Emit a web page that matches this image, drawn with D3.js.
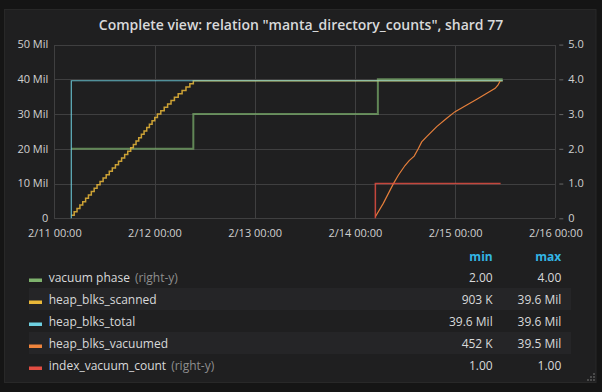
<!DOCTYPE html>
<html><head><meta charset="utf-8">
<script src="https://cdn.jsdelivr.net/npm/d3@7"></script>
<style>
html,body{margin:0;padding:0;background:#151515;}
svg{display:block;font-family:"Open Sans",sans-serif;}
</style></head>
<body>
<svg id="c" width="602" height="392"></svg>
<script>
// ---- data (hours since 2/11 00:00) ----
const title = 'Complete view: relation "manta_directory_counts", shard 77';
const xTickLabels = ["2/11 00:00","2/12 00:00","2/13 00:00","2/14 00:00","2/15 00:00","2/16 00:00"];
const leftTicks = [0, 10e6, 20e6, 30e6, 40e6, 50e6];
const rightTicks = [0, 1, 2, 3, 4, 5];

const phaseTimes = [4.0, 33.3, 77.5, 107.4];
const phaseValues = [2, 3, 4, 4];

const scannedTimes = [4.07,4.76,5.44,6.13,6.81,7.50,8.18,8.87,9.55,10.24,10.96,11.69,12.43,13.17,13.90,14.64,15.38,16.12,16.85,17.59,18.30,18.94,19.58,20.22,20.86,21.50,22.14,22.78,23.42,24.06,24.70,25.51,26.33,27.14,27.96,28.77,29.68,30.61,31.54,32.47,33.30,107.4];
const scannedValues = [0.90,1.87,2.84,3.81,4.78,5.75,6.72,7.69,8.66,9.63,10.60,11.57,12.54,13.51,14.48,15.45,16.42,17.39,18.36,19.33,20.30,21.27,22.24,23.21,24.18,25.15,26.12,27.09,28.06,29.03,30.00,30.97,31.94,32.91,33.88,34.85,35.82,36.79,37.76,38.73,39.60,39.60];

const totalTimes = [4.07, 4.07, 107.4];
const totalValues = [0, 39.6, 39.6];

const vacuumedTimes = [76.9,78.8,81.2,82.4,84.0,85.0,86.2,87.2,88.0,89.2,91.6,94.0,96.0,98.8,101.2,103.6,105.6,106.3,106.8];
const vacuumedValues = [0.45,4.3,9.9,12.4,15.2,16.6,17.9,20.1,22.0,23.5,26.4,28.8,30.7,32.6,34.3,36.0,37.4,38.4,39.5];

const indexTimes = [76.9, 76.9, 106.9];
const indexValues = [0, 1, 1];

const legendNames = ["vacuum phase","heap_blks_scanned","heap_blks_total","heap_blks_vacuumed","index_vacuum_count"];
const legendRightY = [true,false,false,false,true];
const legendColors = ["#7eb26d","#eab839","#6ed0e0","#ef843c","#e24d42"];
const legendMin = ["2.00","903 K","39.6 Mil","452 K","1.00"];
const legendMax = ["4.00","39.6 Mil","39.6 Mil","39.5 Mil","1.00"];

// ---- drawing ----
const svg = d3.select("#c");
const t0 = Date.UTC(2017,1,11);
const toDate = h => new Date(t0 + h*3600e3);

svg.append("rect").attr("x",4.5).attr("y",9.5).attr("width",591.5).attr("height",373)
  .attr("fill","#1f1f20").attr("stroke","#282828");

svg.append("text").attr("x",301).attr("y",29.5).attr("text-anchor","middle")
  .attr("fill","#d8d9da").attr("font-size",14).attr("font-weight",600).text(title);

const x = d3.scaleUtc().domain([toDate(0), toDate(120)]).range([54.3, 555.3]);
const yL = d3.scaleLinear().domain([0, 50e6]).range([218.3, 44.6]);
const yR = d3.scaleLinear().domain([0, 5]).range([218.3, 44.6]);

const grid = svg.append("g").attr("stroke","#3f3f40").attr("stroke-width",1).attr("shape-rendering","crispEdges");
const xTicks = xTickLabels.map((d,i)=>toDate(24*i));
grid.selectAll("line.v").data(xTicks).join("line")
  .attr("x1",d=>Math.round(x(d))+0.5).attr("x2",d=>Math.round(x(d))+0.5).attr("y1",yL(50e6)).attr("y2",yL(0));
grid.selectAll("line.h").data(leftTicks).join("line").attr("class","h")
  .attr("x1",x.range()[0]).attr("x2",x.range()[1]).attr("y1",d=>Math.round(yL(d))+0.5).attr("y2",d=>Math.round(yL(d))+0.5);

// axes
const xAxis = d3.axisBottom(x).tickValues(xTicks).tickSize(0).tickPadding(11)
  .tickFormat((d,i)=>xTickLabels[i]);
const gx = svg.append("g").attr("transform",`translate(0,${yL(0)})`).call(xAxis);
const yAxisL = d3.axisLeft(yL).tickValues(leftTicks).tickSize(0).tickPadding(6)
  .tickFormat(d=> d===0 ? "0" : (d/1e6)+" Mil");
const gyl = svg.append("g").attr("transform",`translate(${x.range()[0]},0)`).call(yAxisL);
const yAxisR = d3.axisRight(yR).tickValues(rightTicks).tickSize(4).tickPadding(5)
  .tickFormat(d=> d===0 ? "0" : d.toFixed(1));
const gyr = svg.append("g").attr("transform",`translate(${x.range()[1]+4},0)`).call(yAxisR);
[gx,gyl,gyr].forEach(g=>{
  g.select(".domain").remove();
  g.selectAll("text").attr("fill","#d0d0d0").attr("font-size",11).attr("font-family","Open Sans, sans-serif");
  g.selectAll("line").attr("stroke","#666");
});
gyl.selectAll("text").attr("dy","0.3em");
gyr.selectAll("text").attr("dy","0.3em");

function series(times, values, scale, mult, color, width, curve, opacity){
  const pts = times.map((t,i)=>[x(toDate(t)), scale(values[i]*mult)]);
  svg.append("path").attr("d", d3.line().curve(curve)(pts))
    .attr("fill","none").attr("stroke",color).attr("stroke-width",width).attr("stroke-opacity",opacity);
}
series(phaseTimes, phaseValues, yR, 1, "#7eb26d", 2, d3.curveStepAfter, 0.7);
series(scannedTimes, scannedValues, yL, 1e6, "#eab839", 1.5, d3.curveStepAfter, 0.85);
series(totalTimes, totalValues, yL, 1e6, "#6ed0e0", 1.2, d3.curveLinear, 0.85);
series(vacuumedTimes, vacuumedValues, yL, 1e6, "#ef843c", 1.2, d3.curveLinear, 0.95);
series(indexTimes, indexValues, yR, 1, "#e24d42", 1.5, d3.curveLinear, 0.85);

// legend
const lg = svg.append("g");
const rowY = i => 266 + 22*i;
lg.append("text").attr("x",492.7).attr("y",260.7).attr("text-anchor","end").attr("fill","#33b5e5")
  .attr("font-size",12).attr("font-weight",700).text("min");
lg.append("text").attr("x",561.3).attr("y",260.7).attr("text-anchor","end").attr("fill","#33b5e5")
  .attr("font-size",12).attr("font-weight",700).text("max");
legendNames.forEach((name,i)=>{
  if(i%2===1) lg.append("rect").attr("x",29).attr("y",rowY(i)).attr("width",542).attr("height",22).attr("fill","#252527");
  lg.append("rect").attr("x",29).attr("y",rowY(i)+12.5).attr("width",13).attr("height",3.5).attr("fill",legendColors[i]);
  const t = lg.append("text").attr("x",48.7).attr("y",rowY(i)+15.5).attr("font-size",12).attr("fill","#d8d9da");
  t.append("tspan").text(name);
  if(legendRightY[i]) t.append("tspan").attr("fill","#8e8e8e").attr("dx",5).text("(right-y)");
  lg.append("text").attr("x",492.7).attr("y",rowY(i)+15.5).attr("text-anchor","end").attr("font-size",12).attr("fill","#d8d9da").text(legendMin[i]);
  lg.append("text").attr("x",561.3).attr("y",rowY(i)+15.5).attr("text-anchor","end").attr("font-size",12).attr("fill","#d8d9da").text(legendMax[i]);
});

// resize handle dots
const dots = [[593,373],[590,376],[593,376],[587,379],[590,379],[593,379]];
svg.selectAll("rect.dot").data(dots).join("rect").attr("class","dot")
  .attr("x",d=>d[0]).attr("y",d=>d[1]).attr("width",2).attr("height",2).attr("fill","#4a4a4a");
</script>
</body></html>
